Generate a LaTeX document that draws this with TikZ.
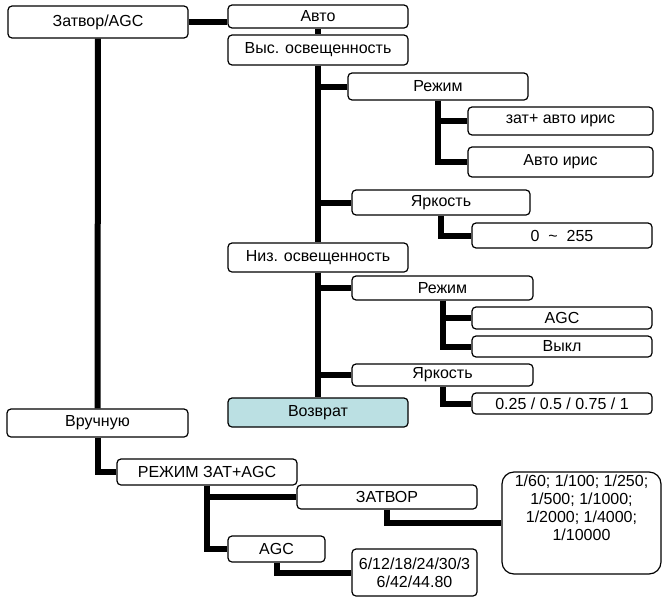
\documentclass[tikz,border=0pt]{standalone}
\usepackage{fontspec}
\setmainfont{Liberation Sans}
\usepackage{xcolor}
\definecolor{ret}{RGB}{187,224,227}

\begin{document}
\begin{tikzpicture}[x=1pt, y=-1pt, line width=6pt,
  main/.style = {draw, line width=1.2pt, rounded corners=4pt, fill=white, inner sep=0pt, minimum width=180pt, font=\fontsize{16}{18}\selectfont, align=center}]
\useasboundingbox (0,0) rectangle (663,597);
\node[main, minimum height=32pt] (1) at (98,22) {Затвор/AGC};
\node[main, minimum height=23pt] (2) at (318,16.5) {Авто};
\node[main, minimum height=30pt] (3) at (318,50) {Выс. освещенность};
\node[main, minimum height=27pt] (4) at (438,86.5) {Режим};
\node[main, minimum height=28pt, minimum width=185pt] (5) at (560.5,121) {зат+ авто ирис};
\node[main, minimum height=30pt, minimum width=185pt] (6) at (560.5,162) {Авто ирис};
\node[main, minimum height=25pt, minimum width=178pt] (7) at (441,202.5) {Яркость};
\node[main, minimum height=25pt] (8) at (562,235.5) {0\ \ \textasciitilde\ \ 255};
\node[main, minimum height=29pt] (9) at (318,257.5) {Низ. освещенность};
\node[main, minimum height=24pt, minimum width=181pt] (10) at (442.5,288) {Режим};
\node[main, minimum height=22pt] (11) at (562,318) {AGC};
\node[main, minimum height=21pt] (12) at (562,346.5) {Выкл};
\node[main, minimum height=22pt, minimum width=181pt] (13) at (442.5,375) {Яркость};
\node[main, minimum height=21pt] (14) at (562,403.5) {0.25 / 0.5 / 0.75 / 1};
\node[main, minimum height=29pt, fill=ret] (15) at (318,412.5) {Возврат};
\node[main, minimum height=28pt, minimum width=181pt] (16) at (97.5,423) {Вручную};
\node[main, minimum height=26pt] (17) at (207,472) {РЕЖИМ ЗАТ+AGC};
\node[main, minimum height=24pt] (18) at (387,497) {ЗАТВОР};
\node[main, minimum height=26pt, minimum width=97pt] (19) at (276.5,549) {AGC};
\node[main, minimum height=102pt, minimum width=159pt, rounded corners=12pt] (20) at (581.5,523) {1/60; 1/100; 1/250;\\1/500; 1/1000;\\1/2000; 1/4000;\\1/10000\\[12pt]};
\node[main, minimum height=47pt, minimum width=125pt] (21) at (414.5,572.5) {6/12/18/24/30/3\\6/42/44.80};
\draw (1.east) -- (1.east -| 2.west);
\draw (2) -- (3);
\draw (3.south) |- (4.west);
\draw (3.south) |- (7.west);
\draw (3) -- (9);
\draw (4.south) |- (5.west);
\draw (4.south) |- (6.west);
\draw (7.south) |- (8.west);
\draw (9.south) |- (10.west);
\draw (9.south) |- (13.west);
\draw (9) -- (15);
\draw (10.south) |- (11.west);
\draw (10.south) |- (12.west);
\draw (13.south) |- (14.west);
\draw (1) -- (16);
\draw (16.south) |- (17.west);
\draw (17.south) |- (18.west);
\draw (17.south) |- (19.west);
\draw (18.south) |- (20.west);
\draw (19.south) |- (21.west);
\end{tikzpicture}
\end{document}
